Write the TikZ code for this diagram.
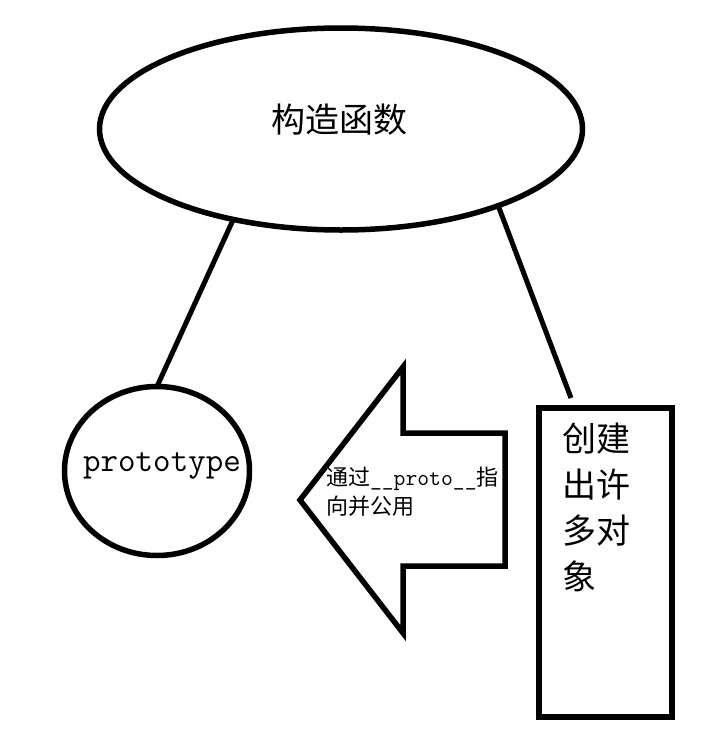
\documentclass[tikz,border=0pt]{standalone}
\usepackage{fontspec}
\newfontfamily\cjk{Noto Sans CJK SC}
\usetikzlibrary{shapes.geometric}
\begin{document}
\begin{tikzpicture}[x=1pt,y=-1pt,
  shapeline/.style={draw=black, line width=5.5pt, line join=miter},
  conn/.style={draw=black, line width=5pt},
  plain/.style={inner sep=0pt, outer sep=0pt}]
\useasboundingbox[fill=white] (0,0) rectangle (715,736);
% constructor ellipse
\node[ellipse, shapeline, plain, minimum width=483pt, minimum height=202pt] (ctor) at (341,129) {};
\node[plain, font=\cjk\fontsize{34}{40}\selectfont] (ctorlabel) at (339,120) {构造函数};
% prototype circle
\node[ellipse, shapeline, plain, minimum width=185pt, minimum height=169pt] (proto) at (157,471) {};
\node[plain, font=\ttfamily\fontsize{34}{40}\selectfont] (protolabel) at (162,466) {prototype};
% objects box
\node[rectangle, shapeline, plain, minimum width=133pt, minimum height=309pt] (objs) at (605.5,562.5) {};
\node[plain, anchor=west, align=left, font=\cjk\fontsize{34}{46}\selectfont] (objslabel) at (562,507)
  {创建\\出许\\多对\\象};
% big arrow
\coordinate (atip) at (300,500);
\coordinate (atop) at (403,367);
\coordinate (anotchT) at (403,433);
\coordinate (arT) at (505,433);
\coordinate (arB) at (505,566);
\coordinate (anotchB) at (403,566);
\coordinate (abot) at (403,633);
\draw[shapeline] (atip) -- (atop) -- (anotchT) -- (arT) -- (arB) -- (anotchB) -- (abot) -- cycle;
\node[plain, anchor=west, align=left, font=\fontsize{22}{29}\selectfont] (arrowlabel) at (326,492)
  {{\cjk 通过}{\ttfamily\fontsize{23}{29}\selectfont\_\_proto\_\_}{\cjk 指}\\{\cjk 向并公用}};
% connectors
\coordinate (rend) at (571,398);
\draw[conn] (ctor.220) -- (proto.north);
\draw[conn] (ctor.334) -- (rend);
\end{tikzpicture}
\end{document}
